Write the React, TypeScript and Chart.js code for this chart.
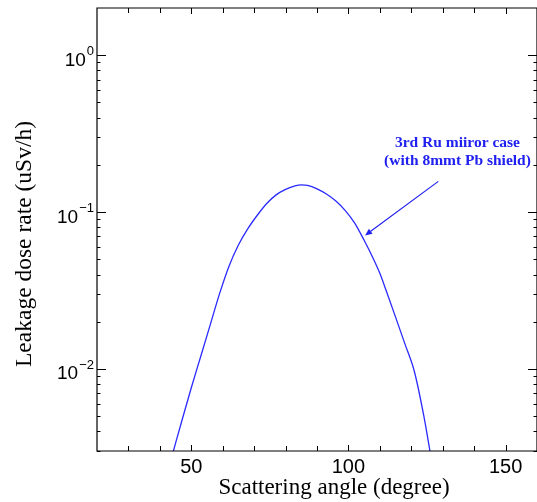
import React, { useEffect, useRef } from "react";
import { Chart, registerables } from "chart.js";

Chart.register(...registerables);

const angles = [44, 47, 50, 53, 56, 59, 62, 65, 68, 71, 74, 77, 80, 83, 85, 87, 90, 93, 96, 99, 102, 105, 108, 110, 112, 115, 118, 121, 124, 126];
const doseRate = [0.00285, 0.00468, 0.00759, 0.01202, 0.01905, 0.0302, 0.0452, 0.0617, 0.0785, 0.0955, 0.1135, 0.1288, 0.1396, 0.1472, 0.1493, 0.1479, 0.1406, 0.1303, 0.1175, 0.1023, 0.0851, 0.0661, 0.0501, 0.0407, 0.0316, 0.0214, 0.0144, 0.0096, 0.0050, 0.00295];

const xTickValues = [30, 40, 50, 60, 70, 80, 90, 100, 110, 120, 130, 140, 150];
const xTickLabels = [50, 100, 150];
const yMajorValues = [1, 0.1, 0.01];
const yMajorExponents = ["0", "\u22121", "\u22122"];
const yMinorValues = [0.003, 0.004, 0.005, 0.006, 0.007, 0.008, 0.009, 0.02, 0.03, 0.04, 0.05, 0.06, 0.07, 0.08, 0.09, 0.2, 0.3, 0.4, 0.5, 0.6, 0.7, 0.8, 0.9];

const xTitle = "Scattering angle (degree)";
const yTitle = "Leakage dose rate (uSv/h)";
const noteLines = ["3rd Ru miiror case", "(with 8mmt Pb shield)"];
const noteAnchor = { x: 134.7, y1: 0.26, y2: 0.199 };
const arrowTail = { x: 128.6, y: 0.157 };
const arrowHead = { x: 105.3, y: 0.071 };

const decorPlugin = {
  id: "decor",
  afterDraw(chart: any) {
    const { ctx, chartArea } = chart;
    const { left, right, top, bottom } = chartArea;
    const xs = chart.scales.x;
    const ys = chart.scales.y;
    ctx.save();
    ctx.strokeStyle = "#000";
    ctx.lineWidth = 1.2;
    ctx.beginPath();
    ctx.rect(left, top, right - left, bottom - top);
    ctx.stroke();

    ctx.lineWidth = 1;
    ctx.beginPath();
    for (const v of xTickValues) {
      const px = Math.round(xs.getPixelForValue(v)) + 0.5;
      const len = xTickLabels.includes(v) ? 6 : 5;
      ctx.moveTo(px, bottom);
      ctx.lineTo(px, bottom - len);
      ctx.moveTo(px, top);
      ctx.lineTo(px, top + len);
    }
    for (const v of yMajorValues) {
      const py = Math.round(ys.getPixelForValue(v)) + 0.5;
      ctx.moveTo(left, py);
      ctx.lineTo(left + 9, py);
      ctx.moveTo(right, py);
      ctx.lineTo(right - 9, py);
    }
    for (const v of yMinorValues) {
      const py = Math.round(ys.getPixelForValue(v)) + 0.5;
      ctx.moveTo(left, py);
      ctx.lineTo(left + 3.5, py);
      ctx.moveTo(right, py);
      ctx.lineTo(right - 3.5, py);
    }
    ctx.stroke();

    // x tick labels
    ctx.fillStyle = "#000";
    ctx.font = "20px 'Liberation Sans', Arial, sans-serif";
    ctx.textAlign = "center";
    ctx.textBaseline = "alphabetic";
    for (const v of xTickLabels) {
      ctx.fillText(String(v), xs.getPixelForValue(v), bottom + 22);
    }

    // y tick labels 10^n
    yMajorValues.forEach((v, i) => {
      const py = ys.getPixelForValue(v);
      ctx.font = "13px 'Liberation Sans', Arial, sans-serif";
      ctx.textAlign = "right";
      const ex = yMajorExponents[i];
      const exRight = left - 3;
      ctx.fillText(ex, exRight, py);
      const w = ctx.measureText(ex).width;
      ctx.font = "19px 'Liberation Sans', Arial, sans-serif";
      ctx.fillText("10", exRight - w - 1, py + 10.5);
    });

    // axis titles
    ctx.font = "23px 'Liberation Serif', 'Times New Roman', serif";
    ctx.textAlign = "center";
    ctx.fillText(xTitle, left + 237, bottom + 43);
    ctx.save();
    ctx.translate(31, 244);
    ctx.rotate(-Math.PI / 2);
    ctx.font = "23.5px 'Liberation Serif', 'Times New Roman', serif";
    ctx.fillText(yTitle, 0, 0);
    ctx.restore();

    // annotation
    ctx.fillStyle = "#2020f0";
    ctx.strokeStyle = "#2020f0";
    ctx.font = "bold 15.5px 'Liberation Serif', 'Times New Roman', serif";
    ctx.textAlign = "center";
    const nx = xs.getPixelForValue(noteAnchor.x);
    ctx.fillText(noteLines[0], nx, ys.getPixelForValue(noteAnchor.y1));
    ctx.fillText(noteLines[1], nx, ys.getPixelForValue(noteAnchor.y2));

    const tx = xs.getPixelForValue(arrowTail.x);
    const ty = ys.getPixelForValue(arrowTail.y);
    const hx = xs.getPixelForValue(arrowHead.x);
    const hy = ys.getPixelForValue(arrowHead.y);
    const ang = Math.atan2(hy - ty, hx - tx);
    const headLen = 7;
    const headW = 3;
    const bx = hx - headLen * Math.cos(ang);
    const by = hy - headLen * Math.sin(ang);
    ctx.lineWidth = 1.2;
    ctx.beginPath();
    ctx.moveTo(tx, ty);
    ctx.lineTo(bx, by);
    ctx.stroke();
    ctx.beginPath();
    ctx.moveTo(hx, hy);
    ctx.lineTo(bx + headW * Math.sin(ang), by - headW * Math.cos(ang));
    ctx.lineTo(bx - headW * Math.sin(ang), by + headW * Math.cos(ang));
    ctx.closePath();
    ctx.fill();
    ctx.restore();
  },
};

export default function App() {
  const ref = useRef<HTMLCanvasElement | null>(null);
  useEffect(() => {
    if (!ref.current) return;
    const chart = new Chart(ref.current, {
      type: "line",
      data: {
        labels: angles,
        datasets: [
          {
            data: angles.map((a, i) => ({ x: a, y: doseRate[i] })),
            borderColor: "#2a2aff",
            borderWidth: 1.3,
            pointRadius: 0,
            cubicInterpolationMode: "monotone",
            fill: false,
          },
        ],
      },
      options: {
        responsive: false,
        animation: false,
        layout: { padding: { left: 97, top: 8, right: 0, bottom: 51 } },
        plugins: { legend: { display: false }, tooltip: { enabled: false } },
        scales: {
          x: { type: "linear", min: 20, max: 160, display: false },
          y: { type: "logarithmic", min: 0.003, max: 2, display: false },
        },
      },
      plugins: [decorPlugin],
    });
    return () => chart.destroy();
  }, []);
  return (
    <div style={{ position: "fixed", left: 0, top: 0, width: 537, height: 502, background: "#fff" }}>
      <canvas ref={ref} width={537} height={502} />
    </div>
  );
}
